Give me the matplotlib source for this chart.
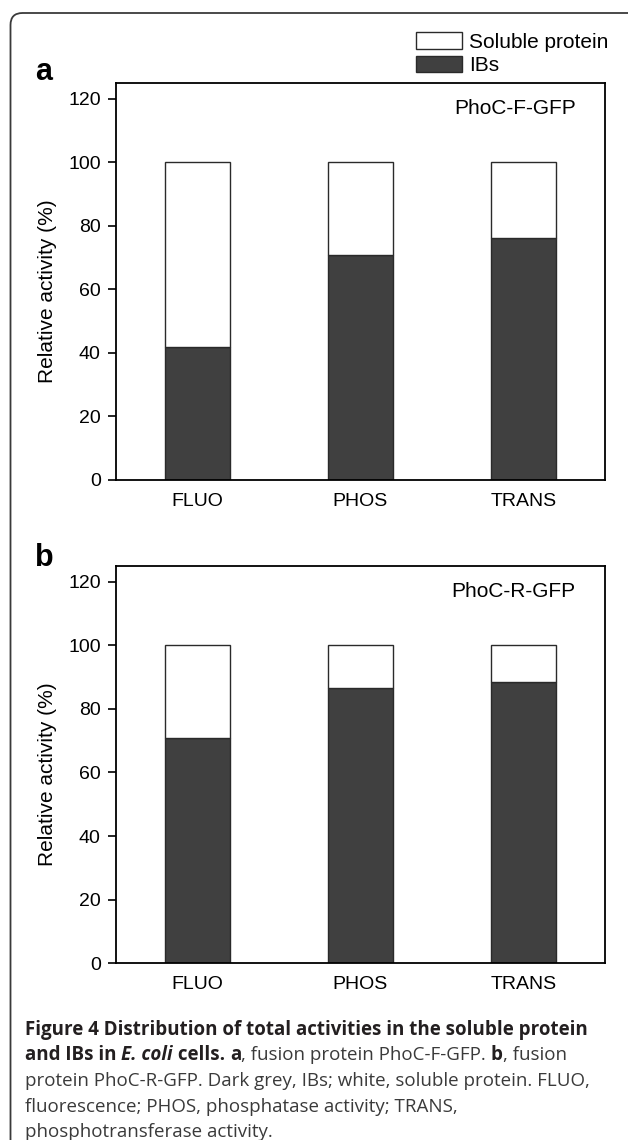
"""Stacked bar figure: soluble protein vs IBs"""
import numpy as np
import matplotlib.pyplot as plt
from matplotlib.patches import FancyBboxPatch
from matplotlib.offsetbox import TextArea, HPacker, AnnotationBbox

plt.rcParams['font.family'] = ['Liberation Sans', 'DejaVu Sans']

"""Data"""
assays = ['FLUO', 'PHOS', 'TRANS']
ibs_f = [42, 71, 76.3]       # PhoC-F-GFP, IBs share (%)
ibs_r = [70.9, 86.5, 88.4]   # PhoC-R-GFP, IBs share (%)
total = [100, 100, 100]
y_ticks = [0, 20, 40, 60, 80, 100, 120]

dark = '#404040'
W, H = 628, 1140
fig = plt.figure(figsize=(W/100, H/100), dpi=100)

# rounded outer frame (in inches so corners stay round), right side runs off the page
frame = FancyBboxPatch((0.105, -0.3), 6.5, 11.57,
                       boxstyle='round,pad=0,rounding_size=0.12',
                       transform=fig.dpi_scale_trans, fc='none',
                       ec='#3a3a3a', lw=1.3)
fig.add_artist(frame)


def panel(rect, ibs, name, letter, letter_y):
    ax = fig.add_axes(rect)
    x = np.arange(len(assays))
    soluble = np.array(total) - np.array(ibs)
    b1 = ax.bar(x, ibs, width=0.4, color=dark, edgecolor='#2a2a2a', lw=1.0)
    b2 = ax.bar(x, soluble, bottom=ibs, width=0.4, color='white',
                edgecolor='#2a2a2a', lw=1.0)
    ax.set_xlim(-0.5, 2.5)
    ax.set_ylim(0, 125)
    ax.set_yticks(y_ticks)
    ax.set_xticks(x)
    ax.set_xticklabels(assays)
    ax.tick_params(axis='y', direction='out', length=6, width=1.2,
                   pad=5, labelsize=14)
    ax.tick_params(axis='x', length=0, pad=9, labelsize=14)
    for s in ax.spines.values():
        s.set_linewidth(1.3)
    ax.set_ylabel('Relative activity (%)', fontsize=15)
    ax.yaxis.set_label_coords(-0.12, 0.475)
    ax.text(0.94, 0.935, name, transform=ax.transAxes, ha='right',
            va='center', fontsize=15)
    fig.text(35/W, 1 - letter_y/H, letter, fontsize=22, fontweight='bold',
             ha='left', va='baseline')
    return b1, b2


b1, b2 = panel([116/W, 1 - 480/H, 489/W, 397/H], ibs_f, 'PhoC-F-GFP', 'a', 80)
panel([116/W, 1 - 963.3/H, 489/W, 397.6/H], ibs_r, 'PhoC-R-GFP', 'b', 566)

fig.legend([b2, b1], ['Soluble protein', 'IBs'], loc='upper left',
           bbox_to_anchor=(416/W, 1 - 32/H), frameon=False, fontsize=15,
           handlelength=2.2, handleheight=0.85, handletextpad=0.35,
           labelspacing=0.2, borderpad=0, borderaxespad=0)

"""Caption"""
cap_font = 'Open Sans'
cap_size = 13.5
cap_col = '#231f20'
reg = dict(family=cap_font, size=cap_size, color='#3a3a3a')
bold = dict(family=cap_font, size=cap_size, color=cap_col, weight='bold')
boldit = dict(bold, style='italic')

lines = [
    [('Figure 4 Distribution of total activities in the soluble protein', bold)],
    [('and IBs in ', bold), ('E. coli', boldit), (' cells. ', bold), ('a', bold),
     (', fusion protein PhoC-F-GFP. ', reg), ('b', bold), (', fusion', reg)],
    [('protein PhoC-R-GFP. Dark grey, IBs; white, soluble protein. FLUO,', reg)],
    [('fluorescence; PHOS, phosphatase activity; TRANS,', reg)],
    [('phosphotransferase activity.', reg)],
]
y0, pitch = 1030, 25.5
for i, parts in enumerate(lines):
    boxes = [TextArea(t, textprops=p) for t, p in parts]
    pack = HPacker(children=boxes, align='baseline', pad=0, sep=0)
    ab = AnnotationBbox(pack, (25, H - (y0 + i*pitch)), xycoords='figure pixels',
                        box_alignment=(0, 0.5), frameon=False, pad=0)
    fig.add_artist(ab)

fig.savefig('out.png', dpi=100)
